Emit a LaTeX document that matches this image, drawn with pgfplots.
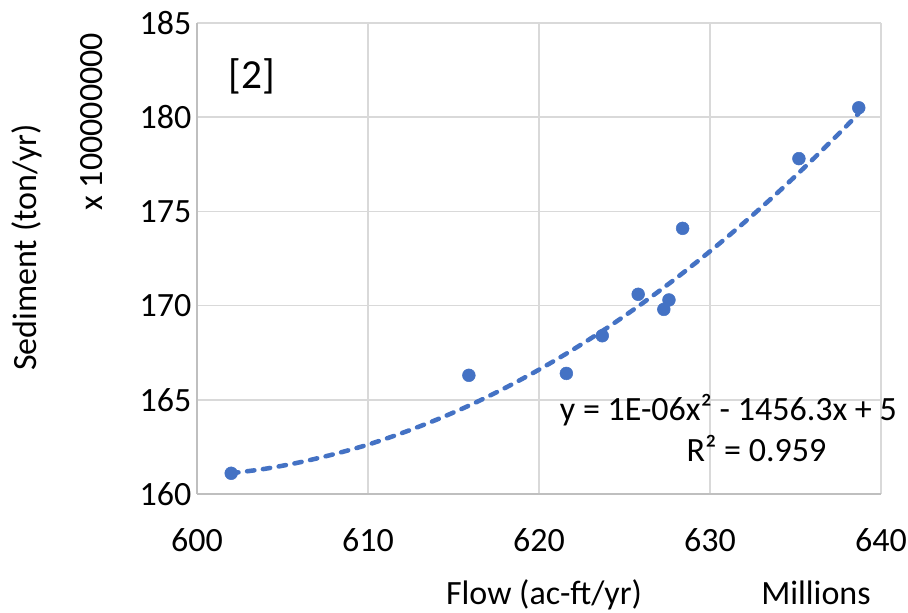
\documentclass[border=0pt]{standalone}
\usepackage{pgfplots}
\pgfplotsset{compat=1.18}
\usepackage{fontspec}
\setmainfont{Carlito}
\definecolor{pblue}{HTML}{4472C4}
\definecolor{gridc}{HTML}{D9D9D9}
\definecolor{axisc}{HTML}{BFBFBF}
\begin{document}
\begin{tikzpicture}
\useasboundingbox (-147.75pt,-89.25pt) rectangle (533.25pt,370.5pt);
\begin{axis}[
  at={(0,0)}, anchor=south west, scale only axis,
  width=513pt, height=353.25pt,
  xmin=600, xmax=640, ymin=160, ymax=185,
  xtick={600,610,...,640}, ytick={160,165,...,185},
  major tick length=0pt,
  grid=major, major grid style={gridc, line width=1.2pt},
  axis x line*=bottom, axis y line*=left,
  axis line style={axisc, line width=1.3pt, -},
  tick label style={font=\fontsize{25.5}{30}\selectfont},
  /pgf/number format/assume math mode=true,
  xticklabel style={anchor=base, yshift=-43.5pt},
  yticklabel style={anchor=east, xshift=-4pt, inner sep=0pt},
  clip=false,
]
\addplot[only marks, mark=*, mark size=4.8pt, pblue] coordinates {
  (602.0,161.1) (615.9,166.3) (621.6,166.4) (623.7,168.4) (625.8,170.6)
  (627.3,169.8) (627.6,170.3) (628.4,174.1) (635.2,177.8) (638.7,180.5)
};
\addplot[pblue, line width=3.4pt, line cap=round, dash pattern=on 5.5pt off 6.5pt, smooth] coordinates {
  (602,161.10) (604,161.34) (606,161.68) (608,162.11) (610,162.62)
  (612,163.24) (614,163.94) (616,164.73) (618,165.62) (620,166.60)
  (622,167.67) (624,168.83) (626,170.09) (628,171.44) (630,172.88)
  (632,174.41) (634,176.03) (636,177.75) (638,179.55) (638.7,180.21)
};
\end{axis}
\begin{scope}[every node/.style={inner sep=0pt, font=\fontsize{25.5}{30}\selectfont}]
\node[anchor=base, font=\fontsize{31}{36}\selectfont] at (41pt,304pt) {[2]};
\node[anchor=base west] at (272pt,54.75pt) {y = 1E-06x² - 1456.3x + 5};
\node[anchor=base west] at (367pt,24pt) {R² = 0.959};
\node[anchor=base] at (260.25pt,-83.25pt) {Flow (ac-ft/yr)};
\node[anchor=base] at (464.25pt,-83.25pt) {Millions};
\node[rotate=90, anchor=base] at (-120pt,184.9pt) {Sediment (ton/yr)};
\node[rotate=90, anchor=base] at (-70.5pt,279.2pt) {x 100000000};
\end{scope}
\end{tikzpicture}
\end{document}
